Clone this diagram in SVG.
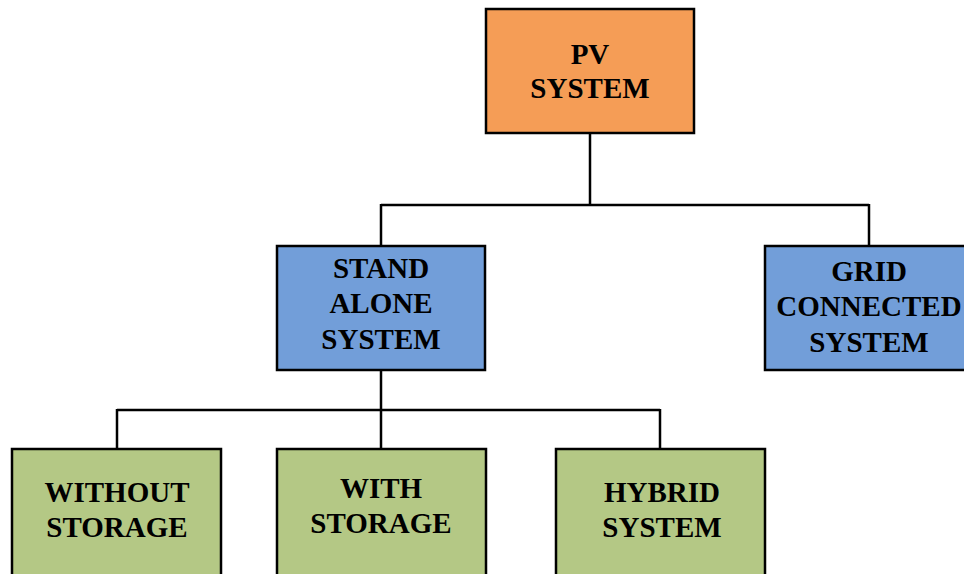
<svg xmlns="http://www.w3.org/2000/svg" width="964" height="574" viewBox="0 0 964 574">
<style>
.box{stroke:#000;stroke-width:2.5}
.o{fill:#F59D56}
.b{fill:#729ED9}
.g{fill:#B4C885}
text{font-family:"Liberation Serif","Times New Roman",serif;font-weight:bold;font-size:29px;fill:#000;text-anchor:middle}
.c line{stroke:#000;stroke-width:2.5}
</style>
<rect width="964" height="574" fill="#fff"/>
<g id="connectors" class="c">
<line x1="590" y1="133" x2="590" y2="205"/>
<line x1="381" y1="205" x2="869" y2="205"/>
<line x1="381" y1="204" x2="381" y2="246"/>
<line x1="869" y1="204" x2="869" y2="246"/>
<line x1="381" y1="370" x2="381" y2="449"/>
<line x1="117" y1="410" x2="660" y2="410"/>
<line x1="117" y1="409" x2="117" y2="449"/>
<line x1="660" y1="409" x2="660" y2="449"/>
</g>
<g id="pv">
<rect class="box o" x="486" y="9" width="208" height="124"/>
<text x="590" y="64">PV</text>
<text x="590" y="98">SYSTEM</text>
</g>
<g id="standalone">
<rect class="box b" x="277" y="246" width="208" height="124"/>
<text x="381" y="278">STAND</text>
<text x="381" y="313">ALONE</text>
<text x="381" y="349">SYSTEM</text>
</g>
<g id="grid">
<rect class="box b" x="765" y="246" width="210" height="124"/>
<text x="869" y="281">GRID</text>
<text x="869" y="316">CONNECTED</text>
<text x="869" y="352">SYSTEM</text>
</g>
<g id="without">
<rect class="box g" x="12" y="449" width="209" height="140"/>
<text x="117" y="502">WITHOUT</text>
<text x="117" y="537">STORAGE</text>
</g>
<g id="with">
<rect class="box g" x="277" y="449" width="209" height="140"/>
<text x="381" y="498">WITH</text>
<text x="381" y="533">STORAGE</text>
</g>
<g id="hybrid">
<rect class="box g" x="556" y="449" width="209" height="140"/>
<text x="662" y="502">HYBRID</text>
<text x="662" y="537">SYSTEM</text>
</g>
</svg>
